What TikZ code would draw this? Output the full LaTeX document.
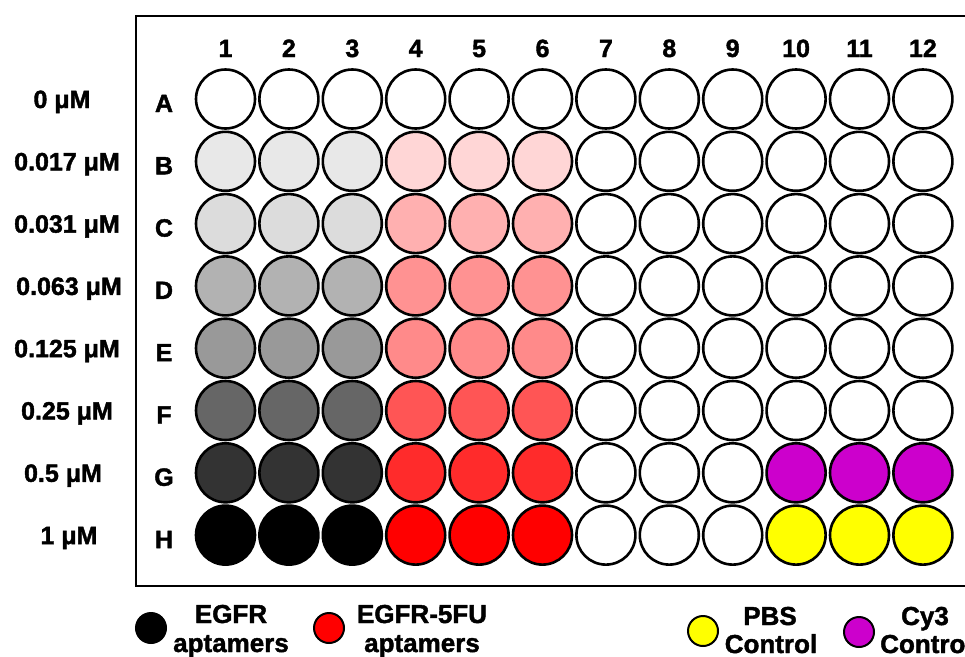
\documentclass[tikz,border=0pt]{standalone}
\usepackage{fontspec}
\setmainfont[BoldFeatures={FakeBold=1.6}]{Liberation Sans}
\usepackage{tikz}
\usetikzlibrary{positioning}
\definecolor{greyB}{HTML}{E8E8E8}
\definecolor{greyC}{HTML}{DCDCDC}
\definecolor{greyD}{HTML}{B2B2B2}
\definecolor{greyE}{HTML}{999999}
\definecolor{greyF}{HTML}{666666}
\definecolor{greyG}{HTML}{333333}
\definecolor{pinkB}{HTML}{FFD6D6}
\definecolor{pinkC}{HTML}{FFB0B0}
\definecolor{pinkD}{HTML}{FF9292}
\definecolor{pinkE}{HTML}{FF8A8A}
\definecolor{pinkF}{HTML}{FF5555}
\definecolor{pinkG}{HTML}{FF2B2B}
\definecolor{cyviolet}{HTML}{CC00CC}
\definecolor{pbsyellow}{HTML}{FFFF00}

\begin{document}
\begin{tikzpicture}[x=1pt,y=-1pt,
  lbl/.style={font=\fontsize{25}{27}\selectfont\bfseries,inner sep=0pt,anchor=base},
  keytext/.style={font=\fontsize{26}{28}\selectfont\bfseries,inner sep=0pt,anchor=base},
  well/.style={circle,draw=black,line width=2.6pt,minimum size=59pt,inner sep=0pt},
  keywell/.style={circle,draw=black,line width=2pt,minimum size=30pt,inner sep=0pt}]
  \useasboundingbox (0,0) rectangle (965,656);

  % plate
  \draw[line width=2pt] (136,16) rectangle (985,586);

  \foreach \c in {1,...,12}{
    \node[lbl] (col\c) at ({225.5+63.4*(\c-1)},57) {\c};
  }

  \foreach \row/\gc/\rc/\kc/\cx/\conc [count=\i from 0] in
    {A/white/white/white/62/{0 μM},
     B/greyB/pinkB/white/67/{0.017 μM},
     C/greyC/pinkC/white/67/{0.031 μM},
     D/greyD/pinkD/white/69/{0.063 μM},
     E/greyE/pinkE/white/67/{0.125 μM},
     F/greyF/pinkF/white/67/{0.25 μM},
     G/greyG/pinkG/cyviolet/63/{0.5 μM},
     H/black/red/pbsyellow/69/{1 μM}}{
    \node[lbl] (conc-\row) at (\cx,{108+62.3*\i}) {\conc};
    \node[lbl] (row-\row) at (164,{112+62.3*\i}) {\row};
    \foreach \c in {1,2,3}
      \node[well,fill=\gc] (w-\row\c) at ({225.5+63.4*(\c-1)},{99+62.3*\i}) {};
    \foreach \c in {4,5,6}
      \node[well,fill=\rc] (w-\row\c) at ({225.5+63.4*(\c-1)},{99+62.3*\i}) {};
    \foreach \c in {7,8,9}
      \node[well,fill=white] (w-\row\c) at ({225.5+63.4*(\c-1)},{99+62.3*\i}) {};
    \foreach \c in {10,11,12}
      \node[well,fill=\kc] (w-\row\c) at ({225.5+63.4*(\c-1)},{99+62.3*\i}) {};
  }

  % legend
  \node[keywell,fill=black] (k-egfr) at (151,628) {};
  \node[keytext] (k-egfr-a) at (231,623) {EGFR};
  \node[keytext] (k-egfr-b) at (231,652) {aptamers};
  \node[keywell,fill=red] (k-fu) at (329,628) {};
  \node[keytext] (k-fu-a) at (422,623) {EGFR-5FU};
  \node[keytext] (k-fu-b) at (422,652) {aptamers};
  \node[keywell,fill=pbsyellow] (k-pbs) at (703,631) {};
  \node[keytext] (k-pbs-a) at (770,625) {PBS};
  \node[keytext] (k-pbs-b) at (771,653) {Control};
  \node[keywell,fill=cyviolet] (k-cy) at (859,632) {};
  \node[keytext] (k-cy-a) at (925,625) {Cy3};
  \node[keytext,anchor=base west] (k-cy-b) at (880,653) {Control};
\end{tikzpicture}
\end{document}
